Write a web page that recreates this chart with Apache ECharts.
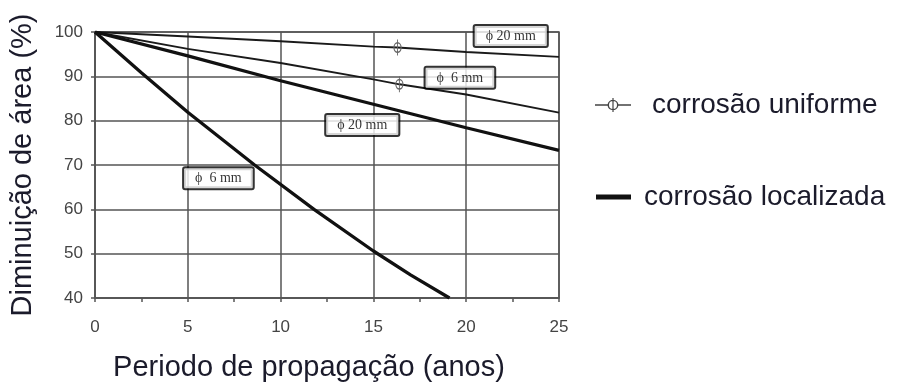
<!DOCTYPE html>
<html>
<head>
<meta charset="utf-8">
<script src="https://cdn.jsdelivr.net/npm/echarts@6/dist/echarts.min.js"></script>
<style>html,body{margin:0;padding:0;background:#fff}#c{width:901px;height:387px}</style>
</head>
<body>
<div id="c"></div>
<script>
// Data
const uniform20Years = [0, 5, 10, 15, 16.3, 20, 25];
const uniform20Area  = [100, 99.0, 97.9, 96.7, 96.5, 95.5, 94.4];
const uniform20Marker = 16.3;

const uniform6Years = [0, 5, 10, 15, 16.4, 20, 25];
const uniform6Area  = [100, 96.2, 93.0, 89.3, 88.2, 85.9, 81.8];
const uniform6Marker = 16.4;

const localized20Years = [0, 5, 10, 15, 20, 25];
const localized20Area  = [100, 94.6, 89.0, 83.7, 78.4, 73.3];

const localized6Years = [0, 2.5, 5, 8.6, 11.8, 15, 17, 19.1];
const localized6Area  = [100, 90.8, 81.9, 70, 60, 50.6, 45.2, 40];

const labelTexts = ['ϕ 20 mm', 'ϕ  6 mm', 'ϕ 20 mm', 'ϕ  6 mm'];
const labelYears = [22.4, 19.66, 14.4, 6.65];
const labelArea  = [99.1, 89.66, 79.0, 67.0];

const seriesNames = ['corrosão uniforme', 'corrosão localizada'];
const xTitle = 'Periodo de propagação (anos)';
const yTitle = 'Diminuição de área (%)';

// ring with a vertical stroke (marker of the uniform-corrosion curves)
const markerPath = 'path://M11.5,8 A5.5,5.5 0 1 1 0.5,8 A5.5,5.5 0 1 1 11.5,8 Z M10,8 A4,4 0 1 0 2,8 A4,4 0 1 0 10,8 Z M5.4,0 H6.6 V16 H5.4 Z';
// line with ring and stroke, for the legend
const legendUniformIcon = 'path://M0,7.3 H12.6 A5.5,5.5 0 0 1 23.4,7.3 H36 V8.7 H23.4 A5.5,5.5 0 0 1 12.6,8.7 H0 Z M22,8 A4,4 0 0 0 14,8 A4,4 0 0 0 22,8 Z M17.4,1 H18.6 V15 H17.4 Z';

function pairs(xs, ys, markerX) {
  return xs.map((x, i) => {
    if (markerX !== undefined && x === markerX) {
      return { value: [x, ys[i]], symbol: markerPath, symbolSize: [12, 16], symbolKeepAspect: true };
    }
    return { value: [x, ys[i]], symbol: 'none' };
  });
}

const chart = echarts.init(document.getElementById('c'), null, { renderer: 'canvas' });
const titleColor = '#1b1b2b';
const fontSans = 'Liberation Sans, Arial, sans-serif';
const uniformLine = { color: '#1a1a1a', width: 1.9 };
const localLine = { color: '#111', width: 3.3 };
const markerStyle = { color: '#666' };

chart.setOption({
  animation: false,
  backgroundColor: '#fff',
  grid: { left: 93, right: 342, top: 32, bottom: 87, show: true, borderColor: '#555', borderWidth: 1.5 },
  xAxis: {
    type: 'value', min: 0, max: 25, interval: 5,
    axisLine: { show: true, lineStyle: { color: '#555', width: 1.5 } },
    axisTick: { show: true, length: 4, lineStyle: { color: '#555', width: 1.5 } },
    minorTick: { show: true, splitNumber: 2, length: 4, lineStyle: { color: '#555', width: 1.5 } },
    splitLine: { show: true, lineStyle: { color: '#555', width: 1.5 } },
    axisLabel: { margin: 21, color: '#444', fontSize: 17, fontFamily: fontSans },
    name: xTitle, nameLocation: 'middle', nameGap: 55,
    nameTextStyle: { fontSize: 29, color: titleColor, fontFamily: fontSans, padding: [0, 36, 0, 0] }
  },
  yAxis: {
    type: 'value', min: 40, max: 100, interval: 10,
    axisLine: { show: true, lineStyle: { color: '#555', width: 1.5 } },
    axisTick: { show: true, length: 4, lineStyle: { color: '#555', width: 1.5 } },
    splitLine: { show: true, lineStyle: { color: '#555', width: 1.5 } },
    axisLabel: { margin: 12, color: '#444', fontSize: 17, fontFamily: fontSans },
    name: yTitle, nameLocation: 'middle', nameGap: 58, nameRotate: 90,
    nameTextStyle: { fontSize: 29, color: titleColor, fontFamily: fontSans }
  },
  legend: [
    {
      data: [{ name: seriesNames[0], icon: legendUniformIcon }], orient: 'vertical', left: 590, top: 86,
      itemWidth: 36, itemHeight: 16,
      itemStyle: { color: '#444' },
      textStyle: { fontSize: 28, color: titleColor, fontFamily: fontSans, padding: [0, 0, 0, 16] }
    },
    {
      data: [{ name: seriesNames[1], icon: 'rect' }], orient: 'vertical', left: 591, top: 178,
      itemWidth: 35, itemHeight: 5,
      itemStyle: { color: '#111' },
      textStyle: { fontSize: 28, color: titleColor, fontFamily: fontSans, padding: [0, 0, 0, 8] }
    }
  ],
  series: [
    {
      name: seriesNames[0], type: 'line', showSymbol: true,
      itemStyle: markerStyle,
      lineStyle: uniformLine, data: pairs(uniform20Years, uniform20Area, uniform20Marker), z: 3
    },
    {
      name: seriesNames[0], type: 'line', showSymbol: true,
      itemStyle: markerStyle,
      lineStyle: uniformLine, data: pairs(uniform6Years, uniform6Area, uniform6Marker), z: 3
    },
    {
      name: seriesNames[1], type: 'line', showSymbol: false, symbol: 'none',
      itemStyle: { color: '#111' },
      lineStyle: localLine, data: pairs(localized20Years, localized20Area), z: 3
    },
    {
      name: seriesNames[1], type: 'line', showSymbol: false, symbol: 'none',
      itemStyle: { color: '#111' },
      lineStyle: localLine, data: pairs(localized6Years, localized6Area), z: 3
    },
    {
      name: 'labels', type: 'scatter', symbol: 'rect', symbolSize: 0, itemStyle: { color: '#fff' }, z: 10,
      emphasis: { disabled: true },
      data: labelTexts.map((t, i) => ({ value: [labelYears[i], labelArea[i]], name: t })),
      label: {
        show: true, position: 'inside', formatter: p => p.name,
        fontFamily: 'Liberation Serif, Times New Roman, serif', fontSize: 14, color: '#000',
        textBorderWidth: 0,
        backgroundColor: '#fff', borderColor: '#000', borderWidth: 2, borderRadius: 1,
        padding: [3, 11, 3, 11]
      }
    }
  ]
});
</script>
</body>
</html>
